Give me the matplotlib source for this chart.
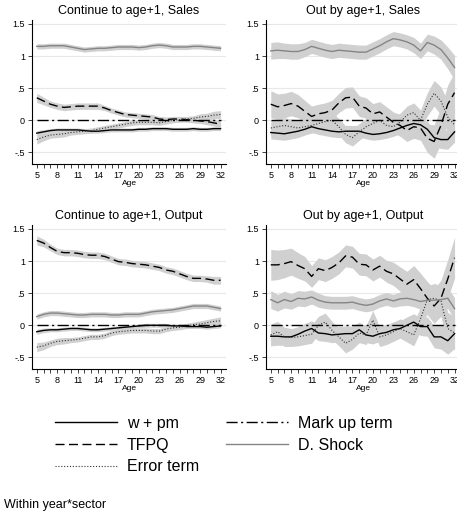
import matplotlib
matplotlib.use("Agg")
import matplotlib.pyplot as plt
from matplotlib.lines import Line2D
import numpy as np

plt.rcParams['font.family'] = ['Liberation Sans', 'DejaVu Sans']

ages = list(range(5, 33))
xtick_labels = ['5', '8', '11', '14', '17', '20', '23', '26', '29', '32']
ytick_vals = [-0.5, 0, 0.5, 1, 1.5]
ytick_labels = ['-.5', '0', '.5', '1', '1.5']

titles = ['Continue to age+1, Sales', 'Out by age+1, Sales',
          'Continue to age+1, Output', 'Out by age+1, Output']
series_names = ['w + pm', 'TFPQ', 'Error term', 'Mark up term', 'D. Shock']

# Continue to age+1, Sales
cs_wpm = [-0.20, -0.18, -0.16, -0.15, -0.15, -0.15, -0.15, -0.16, -0.17, -0.17,
          -0.16, -0.15, -0.15, -0.15, -0.15, -0.14, -0.14, -0.13, -0.13, -0.13,
          -0.14, -0.14, -0.14, -0.13, -0.14, -0.14, -0.13, -0.13]
cs_tfpq = [0.35, 0.30, 0.25, 0.22, 0.20, 0.21, 0.22, 0.22, 0.22, 0.22,
           0.19, 0.15, 0.12, 0.09, 0.08, 0.07, 0.06, 0.05, 0.02, 0.01,
           0.02, 0.02, 0.01, 0.00, -0.01, -0.02, -0.04, -0.06]
cs_err = [-0.30, -0.26, -0.23, -0.22, -0.21, -0.19, -0.18, -0.17, -0.16, -0.14,
          -0.12, -0.10, -0.08, -0.06, -0.04, -0.03, -0.03, -0.03, -0.04, -0.02,
          0.00, 0.01, 0.02, 0.03, 0.05, 0.06, 0.08, 0.09]
cs_dshock = [1.15, 1.15, 1.16, 1.16, 1.16, 1.14, 1.12, 1.10, 1.11, 1.12,
             1.12, 1.13, 1.14, 1.14, 1.14, 1.13, 1.14, 1.16, 1.17, 1.16,
             1.14, 1.14, 1.14, 1.15, 1.15, 1.14, 1.13, 1.12]
cs_wpm_ci = [0.04, 0.035, 0.03, 0.03, 0.03, 0.03, 0.03, 0.03, 0.03, 0.03,
             0.03, 0.03, 0.03, 0.03, 0.03, 0.03, 0.03, 0.03, 0.03, 0.03,
             0.03, 0.03, 0.03, 0.03, 0.03, 0.03, 0.03, 0.03]
cs_tfpq_ci = [0.07, 0.06, 0.05, 0.05, 0.05, 0.05, 0.05, 0.05, 0.05, 0.05,
              0.04, 0.04, 0.04, 0.04, 0.04, 0.04, 0.04, 0.04, 0.04, 0.04,
              0.04, 0.04, 0.04, 0.04, 0.04, 0.05, 0.05, 0.05]
cs_err_ci = [0.07, 0.06, 0.05, 0.05, 0.05, 0.04, 0.04, 0.04, 0.04, 0.04,
             0.04, 0.04, 0.04, 0.04, 0.04, 0.04, 0.04, 0.04, 0.04, 0.04,
             0.04, 0.04, 0.04, 0.04, 0.05, 0.05, 0.06, 0.06]
cs_dshock_ci = [0.04, 0.04, 0.04, 0.04, 0.04, 0.04, 0.04, 0.04, 0.04, 0.04,
                0.04, 0.04, 0.04, 0.04, 0.04, 0.04, 0.04, 0.04, 0.04, 0.04,
                0.04, 0.04, 0.04, 0.04, 0.04, 0.04, 0.04, 0.04]

# Out by age+1, Sales
os_wpm = [-0.19, -0.20, -0.21, -0.19, -0.17, -0.14, -0.10, -0.13, -0.15, -0.17,
          -0.18, -0.17, -0.17, -0.17, -0.20, -0.22, -0.21, -0.19, -0.16, -0.12,
          -0.08, -0.05, -0.07, -0.14, -0.27, -0.30, -0.30, -0.18]
os_tfpq = [0.25, 0.21, 0.23, 0.26, 0.22, 0.14, 0.06, 0.10, 0.12, 0.16,
           0.27, 0.35, 0.36, 0.22, 0.19, 0.10, 0.13, 0.05, -0.03, -0.08,
           -0.16, -0.10, -0.12, -0.28, -0.33, -0.08, 0.25, 0.43]
os_err = [-0.12, -0.10, -0.08, -0.10, -0.12, -0.10, -0.08, -0.05, -0.02, 0.00,
          -0.10, -0.22, -0.27, -0.18, -0.10, -0.05, 0.00, -0.08, -0.10, -0.03,
          0.08, 0.12, 0.00, 0.25, 0.42, 0.30, 0.05, -0.07]
os_dshock = [1.08, 1.09, 1.08, 1.07, 1.07, 1.10, 1.15, 1.12, 1.09, 1.07,
             1.09, 1.08, 1.07, 1.06, 1.06, 1.11, 1.16, 1.22, 1.27, 1.25,
             1.22, 1.17, 1.08, 1.21, 1.17, 1.10, 0.97, 0.82]
os_wpm_ci = [0.10, 0.10, 0.10, 0.10, 0.10, 0.09, 0.09, 0.09, 0.09, 0.09,
             0.09, 0.09, 0.09, 0.09, 0.09, 0.09, 0.09, 0.09, 0.09, 0.09,
             0.10, 0.10, 0.11, 0.12, 0.13, 0.14, 0.15, 0.16]
os_tfpq_ci = [0.21, 0.20, 0.19, 0.19, 0.18, 0.17, 0.16, 0.15, 0.15, 0.15,
              0.15, 0.16, 0.16, 0.16, 0.16, 0.16, 0.16, 0.16, 0.16, 0.17,
              0.17, 0.18, 0.19, 0.22, 0.26, 0.28, 0.30, 0.32]
os_err_ci = [0.12, 0.12, 0.12, 0.12, 0.12, 0.12, 0.12, 0.12, 0.12, 0.12,
             0.13, 0.13, 0.13, 0.13, 0.13, 0.13, 0.13, 0.13, 0.13, 0.14,
             0.14, 0.15, 0.16, 0.18, 0.20, 0.22, 0.24, 0.25]
os_dshock_ci = [0.13, 0.13, 0.12, 0.12, 0.12, 0.11, 0.11, 0.11, 0.11, 0.11,
                0.11, 0.11, 0.11, 0.11, 0.11, 0.11, 0.11, 0.11, 0.11, 0.11,
                0.11, 0.12, 0.12, 0.13, 0.14, 0.15, 0.17, 0.19]

# Continue to age+1, Output
co_wpm = [-0.10, -0.08, -0.07, -0.07, -0.06, -0.05, -0.05, -0.06, -0.07, -0.07,
          -0.06, -0.05, -0.04, -0.03, -0.02, -0.01, 0.00, 0.00, 0.00, 0.00,
          -0.01, -0.01, -0.02, -0.02, -0.02, -0.03, -0.02, -0.01]
co_tfpq = [1.32, 1.28, 1.21, 1.15, 1.13, 1.13, 1.12, 1.10, 1.09, 1.09,
           1.07, 1.03, 0.99, 0.98, 0.96, 0.95, 0.94, 0.92, 0.90, 0.86,
           0.84, 0.80, 0.76, 0.73, 0.73, 0.72, 0.70, 0.70]
co_err = [-0.34, -0.32, -0.28, -0.25, -0.24, -0.23, -0.22, -0.20, -0.18, -0.18,
          -0.16, -0.12, -0.10, -0.09, -0.08, -0.08, -0.08, -0.09, -0.09, -0.06,
          -0.04, -0.03, -0.01, 0.01, 0.02, 0.04, 0.06, 0.07]
co_dshock = [0.135, 0.17, 0.19, 0.19, 0.18, 0.17, 0.16, 0.16, 0.17, 0.17,
             0.17, 0.16, 0.16, 0.17, 0.17, 0.17, 0.19, 0.21, 0.22, 0.23,
             0.24, 0.26, 0.28, 0.30, 0.30, 0.30, 0.28, 0.26]
co_wpm_ci = [0.04, 0.035, 0.03, 0.03, 0.03, 0.03, 0.03, 0.03, 0.03, 0.03,
             0.03, 0.03, 0.03, 0.03, 0.03, 0.03, 0.03, 0.03, 0.03, 0.03,
             0.03, 0.03, 0.03, 0.03, 0.03, 0.03, 0.03, 0.03]
co_tfpq_ci = [0.07, 0.06, 0.05, 0.05, 0.05, 0.05, 0.05, 0.05, 0.05, 0.05,
              0.05, 0.05, 0.05, 0.05, 0.05, 0.05, 0.05, 0.05, 0.05, 0.05,
              0.05, 0.05, 0.05, 0.05, 0.05, 0.05, 0.06, 0.06]
co_err_ci = [0.07, 0.06, 0.05, 0.05, 0.05, 0.04, 0.04, 0.04, 0.04, 0.04,
             0.04, 0.04, 0.04, 0.04, 0.04, 0.04, 0.04, 0.04, 0.04, 0.04,
             0.04, 0.04, 0.04, 0.04, 0.05, 0.05, 0.05, 0.06]
co_dshock_ci = [0.04, 0.04, 0.04, 0.04, 0.04, 0.04, 0.04, 0.04, 0.04, 0.04,
                0.04, 0.04, 0.04, 0.04, 0.04, 0.04, 0.04, 0.04, 0.04, 0.04,
                0.04, 0.04, 0.04, 0.04, 0.04, 0.04, 0.04, 0.04]

# Out by age+1, Output
oo_wpm = [-0.17, -0.17, -0.18, -0.18, -0.14, -0.09, -0.05, -0.12, -0.13, -0.15,
          -0.14, -0.13, -0.13, -0.07, -0.15, -0.17, -0.13, -0.11, -0.07, -0.05,
          0.00, 0.05, -0.02, -0.02, -0.18, -0.18, -0.24, -0.13]
oo_tfpq = [0.94, 0.94, 0.96, 0.99, 0.93, 0.88, 0.76, 0.88, 0.85, 0.90,
           0.97, 1.08, 1.06, 0.95, 0.94, 0.86, 0.92, 0.84, 0.80, 0.72,
           0.64, 0.71, 0.57, 0.42, 0.30, 0.42, 0.72, 1.05]
oo_err = [-0.15, -0.10, -0.18, -0.19, -0.18, -0.16, -0.14, 0.00, 0.05, -0.08,
          -0.18, -0.28, -0.22, -0.12, -0.15, 0.08, -0.18, -0.15, -0.10, -0.05,
          -0.10, -0.15, 0.10, 0.40, 0.42, 0.38, -0.05, -0.12]
oo_dshock = [0.40, 0.35, 0.40, 0.37, 0.42, 0.41, 0.44, 0.39, 0.36, 0.35,
             0.35, 0.35, 0.36, 0.33, 0.31, 0.33, 0.38, 0.41, 0.38, 0.41,
             0.42, 0.40, 0.37, 0.39, 0.39, 0.40, 0.42, 0.26]
oo_wpm_ci = [0.15, 0.14, 0.13, 0.12, 0.12, 0.12, 0.12, 0.12, 0.12, 0.12,
             0.12, 0.12, 0.12, 0.12, 0.12, 0.12, 0.12, 0.12, 0.12, 0.12,
             0.13, 0.13, 0.14, 0.15, 0.17, 0.19, 0.21, 0.23]
oo_tfpq_ci = [0.24, 0.23, 0.22, 0.21, 0.20, 0.19, 0.17, 0.17, 0.17, 0.17,
              0.17, 0.17, 0.17, 0.17, 0.17, 0.17, 0.17, 0.17, 0.18, 0.19,
              0.20, 0.22, 0.24, 0.26, 0.27, 0.28, 0.30, 0.32]
oo_err_ci = [0.17, 0.16, 0.15, 0.14, 0.14, 0.14, 0.14, 0.14, 0.14, 0.14,
             0.14, 0.15, 0.15, 0.15, 0.15, 0.15, 0.15, 0.15, 0.15, 0.15,
             0.16, 0.17, 0.19, 0.21, 0.23, 0.24, 0.25, 0.26]
oo_dshock_ci = [0.14, 0.13, 0.13, 0.12, 0.12, 0.12, 0.11, 0.11, 0.10, 0.10,
                0.10, 0.10, 0.10, 0.10, 0.10, 0.10, 0.10, 0.10, 0.10, 0.11,
                0.11, 0.11, 0.12, 0.13, 0.14, 0.15, 0.16, 0.17]

markup = [0.0] * len(ages)

panels = [
    (cs_wpm, cs_tfpq, cs_err, cs_dshock, cs_wpm_ci, cs_tfpq_ci, cs_err_ci, cs_dshock_ci),
    (os_wpm, os_tfpq, os_err, os_dshock, os_wpm_ci, os_tfpq_ci, os_err_ci, os_dshock_ci),
    (co_wpm, co_tfpq, co_err, co_dshock, co_wpm_ci, co_tfpq_ci, co_err_ci, co_dshock_ci),
    (oo_wpm, oo_tfpq, oo_err, oo_dshock, oo_wpm_ci, oo_tfpq_ci, oo_err_ci, oo_dshock_ci),
]

band_color = '#d0d0d0'
dshock_color = '#858585'
styles = {
    'wpm': dict(color='black', lw=1.0, ls='-'),
    'tfpq': dict(color='black', lw=1.0, ls=(0, (6.5, 3.2))),
    'err': dict(color='#333333', lw=0.8, ls=(0, (1, 1.6))),
    'markup': dict(color='black', lw=1.0, ls=(0, (8, 2.5, 1.5, 2.5))),
    'dshock': dict(color=dshock_color, lw=1.0, ls='-'),
}

W, H = 457, 516
fig = plt.figure(figsize=(W / 100, H / 100), dpi=100)

# axes rectangles in pixels: left, top, right, bottom
boxes = [(32, 20, 226, 164), (266, 20, 460, 164),
         (32, 225, 226, 369), (266, 225, 460, 369)]

x = np.array(ages)
for i, (box, data) in enumerate(zip(boxes, panels)):
    l, t, r, b = box
    ax = fig.add_axes([l / W, 1 - b / H, (r - l) / W, (b - t) / H])
    wpm, tfpq, err, dshock, wpm_ci, tfpq_ci, err_ci, dshock_ci = [np.array(d) for d in data]

    for y, ci in [(wpm, wpm_ci), (tfpq, tfpq_ci), (err, err_ci), (dshock, dshock_ci)]:
        ax.fill_between(x, y - ci, y + ci, color=band_color, lw=0, zorder=1)

    ax.plot(x, wpm, zorder=3, **styles['wpm'])
    ax.plot(x, tfpq, zorder=3, **styles['tfpq'])
    ax.plot(x, err, zorder=3, **styles['err'])
    ax.plot(x, markup, zorder=3, **styles['markup'])
    ax.plot(x, dshock, zorder=3, **styles['dshock'])

    ax.set_xlim(4.3, 32.8)
    ax.set_ylim(-0.68, 1.56)
    ax.set_yticks(ytick_vals)
    ax.set_yticklabels(ytick_labels, fontsize=6.5)
    ax.set_xticks(ages)
    ax.set_xticklabels([str(a) if str(a) in xtick_labels else '' for a in ages], fontsize=6.5)
    ax.tick_params(axis='both', length=3, width=0.6, pad=2, color='#222222')
    ax.yaxis.grid(True, color='#e8e8e8', lw=0.8, zorder=0)
    ax.set_axisbelow(True)
    for s in ['top', 'right']:
        ax.spines[s].set_visible(False)
    for s in ['left', 'bottom']:
        ax.spines[s].set_linewidth(0.8)
    ax.set_xlabel('Age', fontsize=6, labelpad=0)
    ax.set_title(titles[i], fontsize=9, pad=4)

handles = [Line2D([], [], **styles['wpm']),
           Line2D([], [], **styles['tfpq']),
           Line2D([], [], **styles['err']),
           Line2D([], [], **styles['markup']),
           Line2D([], [], **styles['dshock'])]
fig.legend(handles, series_names, loc='upper left',
           bbox_to_anchor=(55 / W, 1 - 416 / H), ncol=2, frameon=False,
           fontsize=11.5, handlelength=3.9, handletextpad=0.6,
           columnspacing=1.7, labelspacing=0.42, borderpad=0, borderaxespad=0)

fig.text(4 / W, 1 - 505 / H, 'Within year*sector', fontsize=9, va='center', ha='left')

fig.savefig('out.png', dpi=100)
